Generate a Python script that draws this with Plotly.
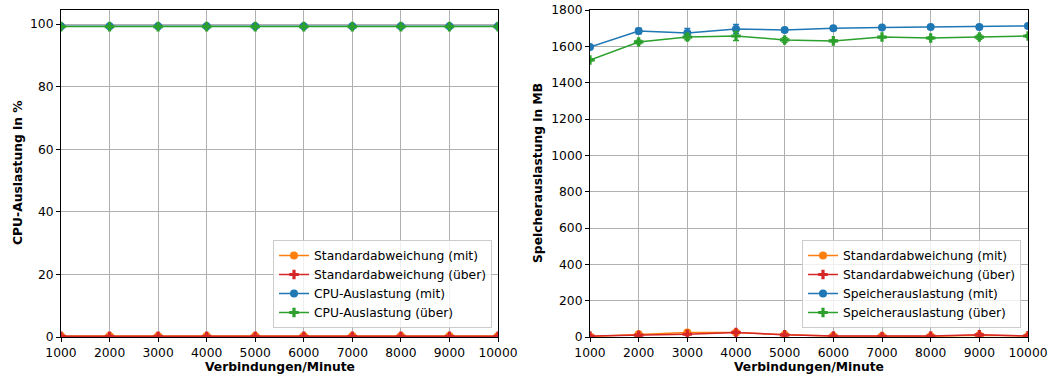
import plotly.graph_objects as go
from plotly.subplots import make_subplots

x = [1000, 2000, 3000, 4000, 5000, 6000, 7000, 8000, 9000, 10000]
x_ticklabels = ["1000", "2000", "3000", "4000", "5000", "6000", "7000", "8000", "9000", "10000"]

cpu_mit = [99.3, 99.3, 99.3, 99.3, 99.3, 99.3, 99.3, 99.3, 99.3, 99.3]
cpu_ueber = [99.2, 99.2, 99.2, 99.2, 99.2, 99.2, 99.2, 99.2, 99.2, 99.2]
cpu_std_mit = [0.3, 0.3, 0.3, 0.3, 0.3, 0.3, 0.3, 0.3, 0.3, 0.3]
cpu_std_ueber = [0.2, 0.2, 0.2, 0.2, 0.2, 0.2, 0.2, 0.2, 0.2, 0.2]

mem_mit = [1596, 1684, 1673, 1695, 1690, 1700, 1703, 1706, 1706, 1712]
mem_ueber = [1525, 1624, 1651, 1657, 1635, 1630, 1651, 1646, 1651, 1657]
mem_std_mit = [3, 15, 25, 25, 12, 5, 4, 4, 10, 6]
mem_std_ueber = [5, 10, 15, 25, 12, 5, 3, 5, 12, 6]

BLUE = "#1f77b4"
ORANGE = "#ff7f0e"
GREEN = "#2ca02c"
RED = "#d62728"
FONT = "DejaVu Sans"
FS = 12.3

fig = make_subplots(rows=1, cols=2)


def add_panel(col, val_mit, val_ueber, std_mit, std_ueber, name, legend):
    fig.add_trace(go.Scatter(x=x, y=std_mit, mode="lines+markers", name="Standardabweichung (mit)",
                             line=dict(color=ORANGE, width=1.5), marker=dict(symbol="circle", size=8, color=ORANGE),
                             legend=legend), row=1, col=col)
    fig.add_trace(go.Scatter(x=x, y=std_ueber, mode="lines+markers", name="Standardabweichung (über)",
                             line=dict(color=RED, width=1.5), marker=dict(symbol="cross", size=8, color=RED),
                             legend=legend), row=1, col=col)
    fig.add_trace(go.Scatter(x=x, y=val_mit, mode="lines+markers", name=f"{name} (mit)",
                             line=dict(color=BLUE, width=1.5), marker=dict(symbol="circle", size=8, color=BLUE),
                             error_y=dict(type="data", array=std_mit, color=BLUE, thickness=1.5, width=3),
                             legend=legend), row=1, col=col)
    fig.add_trace(go.Scatter(x=x, y=val_ueber, mode="lines+markers", name=f"{name} (über)",
                             line=dict(color=GREEN, width=1.5), marker=dict(symbol="cross", size=8, color=GREEN),
                             error_y=dict(type="data", array=std_ueber, color=GREEN, thickness=1.5, width=3),
                             legend=legend), row=1, col=col)


add_panel(1, cpu_mit, cpu_ueber, cpu_std_mit, cpu_std_ueber, "CPU-Auslastung", "legend")
add_panel(2, mem_mit, mem_ueber, mem_std_mit, mem_std_ueber, "Speicherauslastung", "legend2")

W, H = 1053, 378
OFF = 0  # body margin removed via post_script


def fx(px):
    return (px - OFF) / W


def fy(py):
    return 1 - (py - OFF) / H


ydom = [fy(337), fy(10)]
TFONT = dict(family=FONT, size=FS, color="black")

axis_common = dict(showline=True, linecolor="black", linewidth=1, mirror=True,
                   ticks="outside", ticklen=4, tickcolor="black", tickwidth=1,
                   showgrid=True, gridcolor="#b0b0b0", gridwidth=1, zeroline=False,
                   automargin=False, ticklabeloverflow="allow",
                   tickfont=dict(family=FONT, size=FS, color="black"))

fig.update_xaxes(**axis_common, range=[1000, 10000], tickvals=x, ticktext=x_ticklabels)
fig.update_layout(
    xaxis=dict(domain=[fx(61), fx(498)]),
    xaxis2=dict(domain=[fx(590), fx(1028)]),
    yaxis=dict(domain=ydom, range=[0, 104.5], tickvals=[0, 20, 40, 60, 80, 100], **axis_common),
    yaxis2=dict(domain=ydom, range=[0, 1800], tickvals=list(range(0, 1801, 200)), **axis_common),
    width=W, height=H,
    margin=dict(l=0, r=0, t=0, b=0, autoexpand=False),
    paper_bgcolor="white", plot_bgcolor="white",
    font=dict(family=FONT, size=FS, color="black"),
    legend=dict(x=fx(492), y=fy(284), xanchor="right", yanchor="middle", xref="paper", yref="paper",
                bgcolor="rgba(255,255,255,0.8)", bordercolor="#cccccc", borderwidth=1,
                font=dict(family=FONT, size=FS), tracegroupgap=0),
    legend2=dict(x=fx(1021), y=fy(284), xanchor="right", yanchor="middle", xref="paper", yref="paper",
                 bgcolor="rgba(255,255,255,0.8)", bordercolor="#cccccc", borderwidth=1,
                 font=dict(family=FONT, size=FS), tracegroupgap=0),
)

annots = [
    dict(text="<b>Verbindungen/Minute</b>", x=fx(280), y=fy(367), textangle=0),
    dict(text="<b>Verbindungen/Minute</b>", x=fx(809), y=fy(367), textangle=0),
    dict(text="<b>CPU-Auslastung in %</b>", x=fx(18), y=fy(173), textangle=-90),
    dict(text="<b>Speicherauslastung in MB</b>", x=fx(538), y=fy(173), textangle=-90),
]
for a in annots:
    fig.add_annotation(xref="paper", yref="paper", showarrow=False, xanchor="center", yanchor="middle",
                       font=TFONT, **a)

fig.write_html("out.html", config={"displayModeBar": False},
               post_script="document.body.style.margin='0';document.body.style.overflow='hidden';")
